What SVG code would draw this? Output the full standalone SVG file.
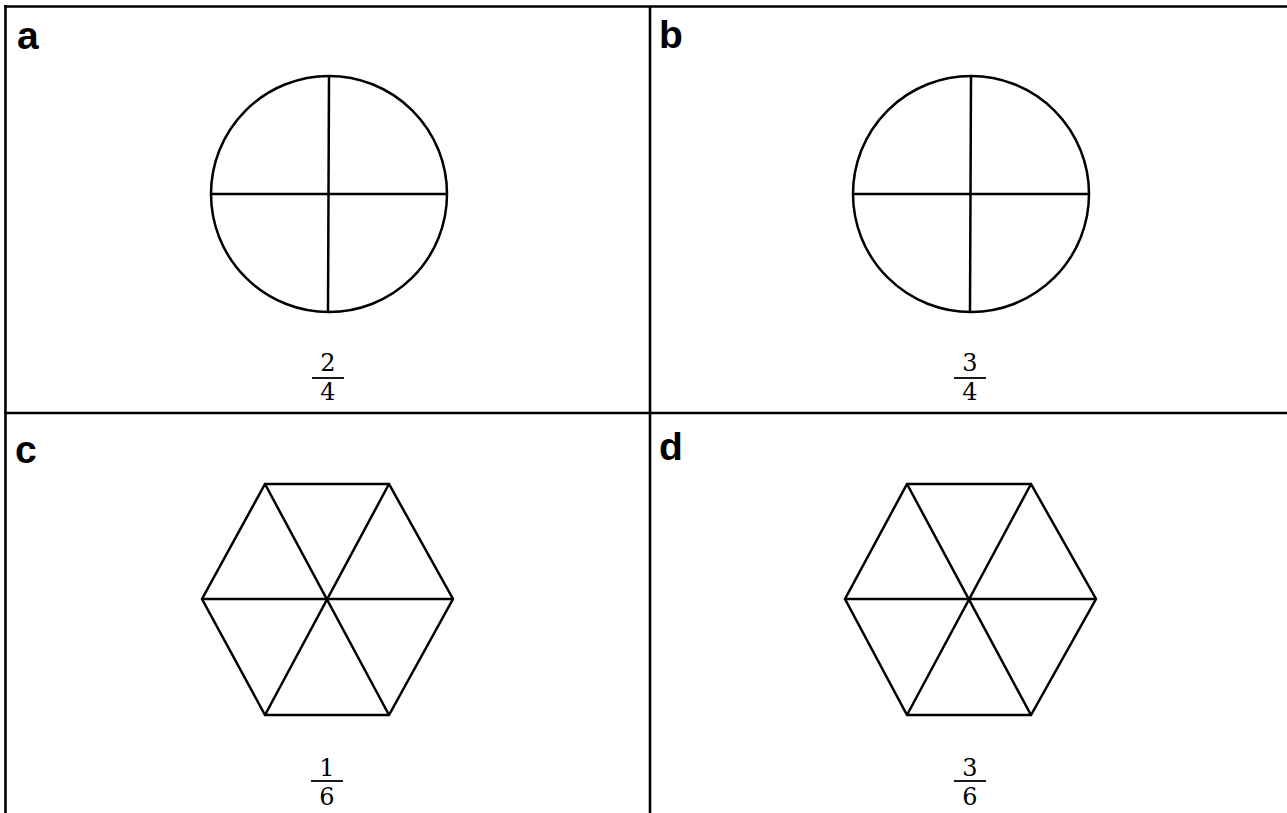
<svg xmlns="http://www.w3.org/2000/svg" width="1287" height="813" viewBox="0 0 1287 813">
<style>
.ln{stroke:#000;stroke-width:2.6;fill:none}
.sh{stroke:#000;stroke-width:2.5;fill:none;stroke-linejoin:miter}
.lbl{font-family:"Liberation Sans","DejaVu Sans",sans-serif;font-weight:bold;font-size:39px;fill:#000}
.fr{font-family:"DejaVu Serif","Liberation Serif",serif;font-size:24px;fill:#000;text-anchor:middle}
.bar{stroke:#000;stroke-width:1.8}
</style>
<rect width="1287" height="813" fill="#fff"/>
<g id="grid">
<line class="ln" x1="4" y1="6.5" x2="1287" y2="6.5"/>
<line class="ln" x1="5.5" y1="5" x2="5.5" y2="813"/>
<line class="ln" x1="4" y1="413" x2="1287" y2="413"/>
<line class="ln" x1="650" y1="6" x2="650" y2="813"/>
</g>
<g id="panel-a">
<text class="lbl" x="17" y="49">a</text>
<circle class="sh" cx="329" cy="194" r="118"/>
<line class="sh" x1="211" y1="194" x2="447" y2="194"/>
<line class="sh" x1="329" y1="76" x2="328" y2="312"/>
<text class="fr" x="328" y="371">2</text>
<line class="bar" x1="312" y1="378" x2="344" y2="378"/>
<text class="fr" x="328" y="400">4</text>
</g>
<g id="panel-b">
<text class="lbl" x="659" y="48">b</text>
<circle class="sh" cx="971" cy="194" r="118"/>
<line class="sh" x1="853" y1="194" x2="1089" y2="194"/>
<line class="sh" x1="971" y1="76" x2="970" y2="312"/>
<text class="fr" x="970" y="371">3</text>
<line class="bar" x1="954" y1="378" x2="986" y2="378"/>
<text class="fr" x="970" y="400">4</text>
</g>
<g id="panel-c">
<text class="lbl" x="15" y="463">c</text>
<polygon class="sh" points="265,484 389,484 453,599 389,715 265,715 202,599"/>
<line class="sh" x1="265" y1="484" x2="389" y2="715"/>
<line class="sh" x1="389" y1="484" x2="265" y2="715"/>
<line class="sh" x1="202" y1="599" x2="453" y2="599"/>
<text class="fr" x="327" y="776">1</text>
<line class="bar" x1="311" y1="781" x2="343" y2="781"/>
<text class="fr" x="327" y="805">6</text>
</g>
<g id="panel-d">
<text class="lbl" x="659" y="460">d</text>
<polygon class="sh" points="907,484 1031,484 1096,599 1031,715 907,715 845,599"/>
<line class="sh" x1="907" y1="484" x2="1031" y2="715"/>
<line class="sh" x1="1031" y1="484" x2="907" y2="715"/>
<line class="sh" x1="845" y1="599" x2="1096" y2="599"/>
<text class="fr" x="970" y="776">3</text>
<line class="bar" x1="954" y1="781" x2="986" y2="781"/>
<text class="fr" x="970" y="805">6</text>
</g>
</svg>
